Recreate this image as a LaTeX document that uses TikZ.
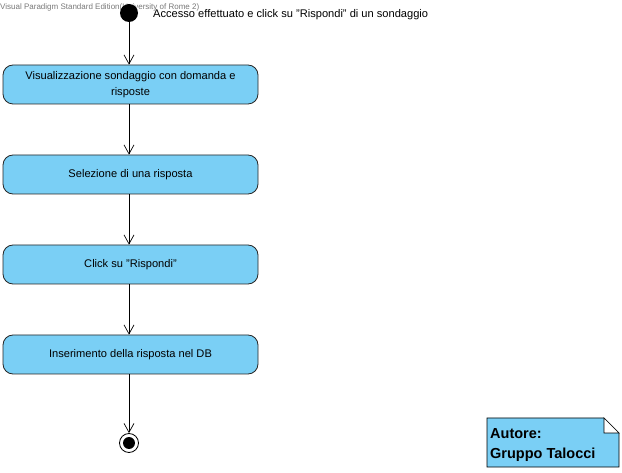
\documentclass[tikz,border=0pt]{standalone}
\usepackage{fontspec}
\setmainfont{Liberation Sans}
\usetikzlibrary{arrows.meta}
\definecolor{actfill}{RGB}{122,207,245}
\definecolor{wmgray}{RGB}{120,120,120}
\begin{document}
\begin{tikzpicture}[x=1pt,y=-1pt,
  action/.style={draw=black!85, line width=0.8pt, fill=actfill, rounded corners=10pt,
    minimum width=255pt, minimum height=39pt, align=center, font=\fontsize{11.1}{16}\selectfont, inner sep=0pt},
  flow/.style={draw=black, line width=0.7pt, -{Straight Barb[length=9pt,width=10pt,line width=0.7pt]}},
  lbl/.style={inner sep=0pt, anchor=base west}]
\useasboundingbox (0,0) rectangle (622,473);

% watermark
\node[lbl, text=wmgray, font=\fontsize{8}{9}\selectfont] (wm) at (0,9.5) {Visual Paradigm Standard Edition(University of Rome 2)};

% start node and its label
\node[circle, fill=black, minimum size=18pt, inner sep=0pt] (start) at (129,13) {};
\node[lbl, font=\fontsize{11.1}{12}\selectfont] (startlbl) at (153,17.5) {Accesso effettuato e click su "Rispondi" di un sondaggio};

% actions
\node[action] (a1) at (130.5,84.5) {Visualizzazione sondaggio con domanda e\\risposte};
\node[action] (a2) at (130.5,174.5) {Selezione di una risposta};
\node[action] (a3) at (130.5,264.5) {Click su "Rispondi"};
\node[action] (a4) at (130.5,354.5) {Inserimento della risposta nel DB};

% final node
\node[circle, draw=black, line width=0.8pt, fill=white, minimum size=19pt, inner sep=0pt] (final) at (129,443) {};
\node[circle, fill=black, minimum size=12pt, inner sep=0pt] (finalin) at (final.center) {};

% control flows
\draw[flow] (start.south) -- (start.south |- a1.north);
\draw[flow] (a1.south -| start) -- (a2.north -| start);
\draw[flow] (a2.south -| start) -- (a3.north -| start);
\draw[flow] (a3.south -| start) -- (a4.north -| start);
\draw[flow] (a4.south -| start) -- (final.north);

% note
\coordinate (n1) at (487,418);
\coordinate (n2) at (604,418);
\coordinate (n3) at (619,433);
\coordinate (n4) at (619,467);
\coordinate (n5) at (487,467);
\draw[fill=actfill, line width=0.7pt] (n1) -- (n2) -- (n3) -- (n4) -- (n5) -- cycle;
\draw[fill=white, line width=0.7pt] (n2) -- (n3) -- (604,433) -- cycle;
\node[lbl, font=\bfseries\fontsize{14.5}{20}\selectfont, align=left, anchor=base west] (note) at (490,458) {Autore:\\Gruppo Talocci};
\end{tikzpicture}
\end{document}
